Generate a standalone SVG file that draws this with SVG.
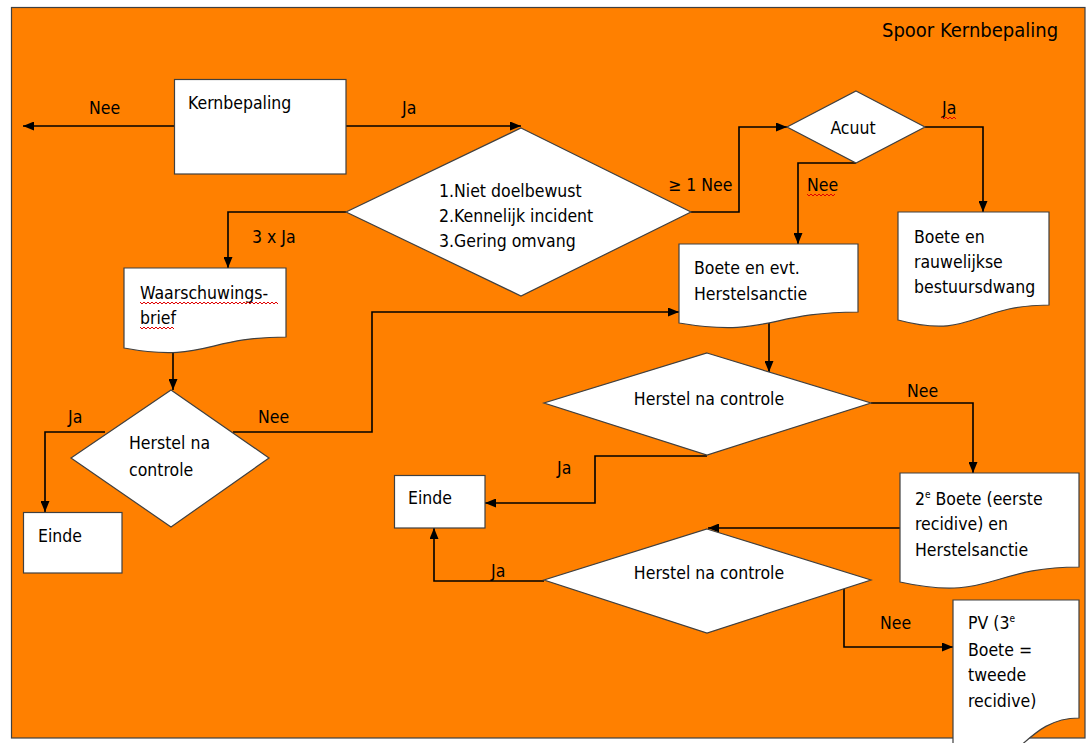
<svg xmlns="http://www.w3.org/2000/svg" width="1088" height="743" viewBox="0 0 1088 743">
<defs>
<marker id="arr" markerUnits="userSpaceOnUse" markerWidth="11" markerHeight="9" refX="11" refY="4.5" orient="auto">
<path d="M0,0 L11,4.5 L0,9 z" fill="#000"/>
</marker>
<style>
.bg{fill:#FF8000;stroke:#404040;stroke-width:1.2}
.shape{fill:#fff;stroke:#404040;stroke-width:1.2}
.con{fill:none;stroke:#000;stroke-width:1.6;marker-end:url(#arr)}
text{font-family:"DejaVu Sans Condensed","DejaVu Sans",sans-serif;font-stretch:condensed;font-size:17.5px;fill:#000}
.title{font-size:20px}
.mid{text-anchor:middle}
.sq{fill:none;stroke:#e00000;stroke-width:1}
</style>
</defs>
<rect width="1088" height="743" fill="#fff"/>
<rect class="bg" x="11.5" y="7.5" width="1073.5" height="730.5"/>
<text class="title" x="882" y="37">Spoor Kernbepaling</text>

<g id="connectors">
<path class="con" d="M174,126 H23"/>
<path class="con" d="M346,126 H521"/>
<path class="con" d="M346,212 H228 V268"/>
<path class="con" d="M691,212 H739 V127 H787"/>
<path class="con" d="M925,127 H983 V212"/>
<path class="con" d="M856,163 H798 V244"/>
<path class="con" d="M173,350 V390"/>
<path class="con" d="M105,432 H45 V512"/>
<path class="con" d="M233,432 H372 V312 H679"/>
<path class="con" d="M769,318 V372"/>
<path class="con" d="M871,403 H973 V473"/>
<path class="con" d="M707,456 H595 V503 H485"/>
<path class="con" d="M900,528 H708"/>
<path class="con" d="M544,581 H434 V528"/>
<path class="con" d="M844,589 V647 H953"/>
<text x="89" y="114">Nee</text>
<text x="402" y="114">Ja</text>
<text x="252" y="243">3 x Ja</text>
<text x="668" y="191">≥ 1 Nee</text>
<text x="942" y="114">Ja</text>
<path class="sq" d="M942,117 l2,2 l2,-2 l2,2 l2,-2 l2,2 l2,-2 l2,2"/>
<text x="807" y="191">Nee</text>
<path class="sq" d="M807,194 l2,2 l2,-2 l2,2 l2,-2 l2,2 l2,-2 l2,2 l2,-2 l2,2 l2,-2 l2,2 l2,-2 l2,2 l2,-2"/>
<text x="68" y="423">Ja</text>
<text x="258" y="423">Nee</text>
<text x="907" y="397">Nee</text>
<text x="557" y="474">Ja</text>
<text x="491" y="577">Ja</text>
<text x="880" y="629">Nee</text>
</g>

<g id="kernbepaling">
<rect class="shape" x="174.5" y="79.5" width="171.5" height="94.5"/>
<text x="188" y="109">Kernbepaling</text>
</g>

<g id="criteria">
<polygon class="shape" points="521,128 691,212 521,296 346,212"/>
<text x="439" y="197">1.Niet doelbewust</text>
<text x="439" y="222">2.Kennelijk incident</text>
<text x="439" y="247">3.Gering omvang</text>
</g>

<g id="acuut">
<polygon class="shape" points="856,91 925,127 856,163 787,127"/>
<text class="mid" x="853" y="134">Acuut</text>
</g>

<g id="waarschuwingsbrief">
<path class="shape" d="M124,268 H286 V337 C205,337 205,363 124,348 Z"/>
<text x="140" y="299">Waarschuwings-</text>
<text x="140" y="324">brief</text>
<path class="sq" d="M140,302 l2,2 l2,-2 l2,2 l2,-2 l2,2 l2,-2 l2,2 l2,-2 l2,2 l2,-2 l2,2 l2,-2 l2,2 l2,-2 l2,2 l2,-2 l2,2 l2,-2 l2,2 l2,-2 l2,2 l2,-2 l2,2 l2,-2 l2,2 l2,-2 l2,2 l2,-2 l2,2 l2,-2 l2,2 l2,-2 l2,2 l2,-2 l2,2 l2,-2 l2,2 l2,-2 l2,2 l2,-2 l2,2 l2,-2 l2,2 l2,-2 l2,2 l2,-2 l2,2 l2,-2 l2,2 l2,-2 l2,2 l2,-2 l2,2 l2,-2 l2,2 l2,-2 l2,2 l2,-2 l2,2 l2,-2 l2,2 l2,-2 l2,2 l2,-2 l2,2 l2,-2 l2,2 l2,-2 l2,2"/>
<path class="sq" d="M140,327 l2,2 l2,-2 l2,2 l2,-2 l2,2 l2,-2 l2,2 l2,-2 l2,2 l2,-2 l2,2 l2,-2 l2,2 l2,-2 l2,2 l2,-2 l2,2"/>
</g>

<g id="boete-evt">
<path class="shape" d="M679,244 H858 V312 C768,312 768,338 679,323 Z"/>
<text x="694" y="274">Boete en evt.</text>
<text x="694" y="300">Herstelsanctie</text>
</g>

<g id="boete-rauwelijks">
<path class="shape" d="M898,212 H1049 V305 C973,305 973,340 898,320 Z"/>
<text x="914" y="243">Boete en</text>
<text x="914" y="268">rauwelijkse</text>
<text x="914" y="293">bestuursdwang</text>
</g>

<g id="herstel-1">
<polygon class="shape" points="171,390 269,458 171,527 71,458"/>
<text x="129" y="449">Herstel na</text>
<text x="129" y="476">controle</text>
</g>

<g id="einde-1">
<rect class="shape" x="23.5" y="512.5" width="98.5" height="60.5"/>
<text x="38" y="542">Einde</text>
</g>

<g id="herstel-2">
<polygon class="shape" points="707,353 871,403 707,455 544,403"/>
<text class="mid" x="709" y="405">Herstel na controle</text>
</g>

<g id="einde-2">
<rect class="shape" x="394.5" y="475.5" width="90.5" height="52.5"/>
<text x="408" y="504">Einde</text>
</g>

<g id="boete-2">
<path class="shape" d="M900,473 H1079 V567 C990,567 990,602 900,582 Z"/>
<text x="915" y="505">2<tspan font-size="10" dy="-7">e</tspan><tspan dy="7"> Boete (eerste</tspan></text>
<text x="915" y="530">recidive) en</text>
<text x="915" y="556">Herstelsanctie</text>
</g>

<g id="herstel-3">
<polygon class="shape" points="707,529 871,580 707,633 544,580"/>
<text class="mid" x="709" y="579">Herstel na controle</text>
</g>

<g id="pv">
<path class="shape" d="M953,600 H1079 V718 C1016,718 1016,792 953,750 Z"/>
<text x="968" y="629">PV (3<tspan font-size="10" dy="-7">e</tspan></text>
<text x="968" y="656">Boete =</text>
<text x="968" y="681">tweede</text>
<text x="968" y="707">recidive)</text>
</g>
</svg>
